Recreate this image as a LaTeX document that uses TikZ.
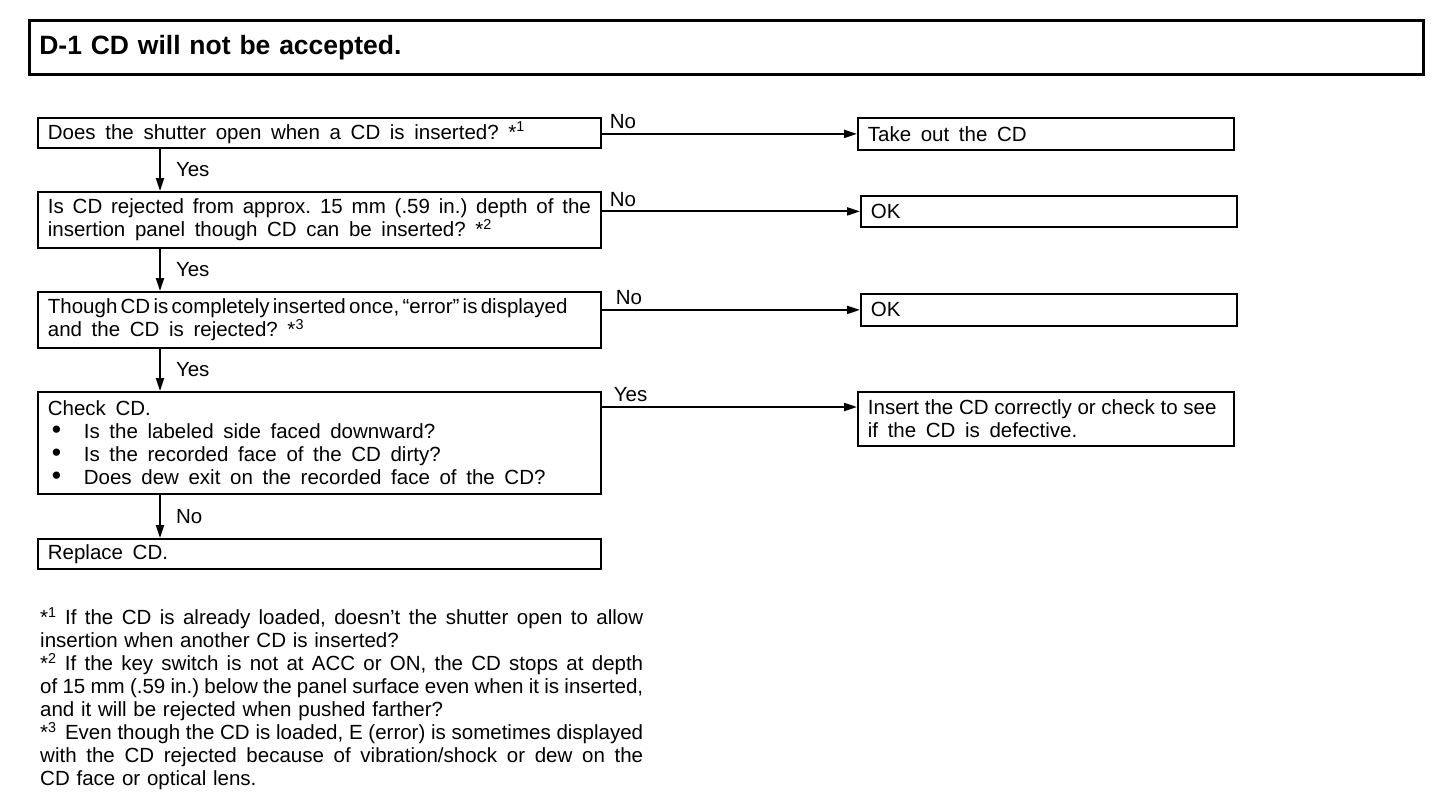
\documentclass[tikz,border=0pt]{standalone}
\usepackage{fontspec}
\setmainfont{Liberation Sans}
\usetikzlibrary{arrows.meta,positioning}
\frenchspacing
\newcommand{\bodysize}{\fontsize{20.5}{23}\selectfont}
\newcommand{\wordgap}{\spaceskip=0.47em plus 0.2em minus 0.1em\relax}
\newcommand{\notegap}{\spaceskip=0.33em plus 0.2em minus 0.1em\relax}
\newcommand{\titlesize}{\fontsize{26.5}{30}\selectfont\bfseries}
\newcommand{\tight}{\spaceskip=0.16em plus 0.3em minus 0.05em\relax}
\newcommand{\plain}{\spaceskip=0pt\relax}
\newcommand{\note}[1]{*\textsuperscript{#1}}
\newcommand{\dotitem}{\hspace*{4pt}\makebox[32pt][l]{\smash{\scalebox{1.3}{\textbullet}}}}

\begin{document}
\begin{tikzpicture}[x=1pt,y=-1pt]
\tikzset{
  panel/.style={draw=black,line width=2.6pt,anchor=north west,inner xsep=10pt,inner ysep=0pt,align=left,font=\titlesize},
  askbox/.style={draw=black,line width=1.8pt,anchor=north west,inner xsep=10pt,inner ysep=0pt,align=left,font=\bodysize,execute at begin node=\wordgap,text width=543pt,minimum width=563pt},
  endbox/.style={askbox,text width=356pt,minimum width=376pt},
  flow/.style={draw=black,line width=2pt,-{Triangle[length=13pt,width=8pt]}},
  answer/.style={font=\bodysize,inner sep=1pt}
}
\useasboundingbox (0,0) rectangle (1456,806);
\node[panel,minimum width=1394pt,minimum height=54pt,text width=1374pt] (n_title) at (28,19) {D-1 CD will not be accepted.};
% questions, left column
\node[askbox,minimum height=30pt] (n_q1) at (37,117) {Does the shutter open when a CD is inserted? \note{1}};
\node[askbox,minimum height=56pt] (n_q2) at (37,191) {Is CD rejected from approx. 15 mm (.59 in.) depth of the\\insertion panel though CD can be inserted? \note{2}};
\node[askbox,minimum height=56pt] (n_q3) at (37,291) {{\tight Though CD is completely inserted once, ``error'' is displayed}\\and the CD is rejected? \note{3}};
\node[askbox,minimum height=102pt] (n_q4) at (37,391) {Check CD.\\\dotitem Is the labeled side faced downward?\\\dotitem Is the recorded face of the CD dirty?\\\dotitem Does dew exit on the recorded face of the CD?};
\node[askbox,minimum height=30pt] (n_q5) at (37,538) {Replace CD.};
% results, right column
\node[endbox,minimum height=32pt] (n_r1) at (857,117) {Take out the CD};
\node[endbox,minimum height=31pt] (n_r2) at (860,195) {OK};
\node[endbox,minimum height=32pt] (n_r3) at (860,293) {OK};
\node[endbox,minimum height=54pt] (n_r4) at (857,391) {{\plain Insert the CD correctly or check to see}\\if the CD is defective.};
\draw[flow] ([xshift=123pt]n_q1.south west) -- ([xshift=123pt]n_q2.north west) node[answer,midway,right=14pt] {Yes};
\draw[flow] ([xshift=123pt]n_q2.south west) -- ([xshift=123pt]n_q3.north west) node[answer,midway,right=14pt] {Yes};
\draw[flow] ([xshift=123pt]n_q3.south west) -- ([xshift=123pt]n_q4.north west) node[answer,midway,right=14pt] {Yes};
\draw[flow] ([xshift=123pt]n_q4.south west) -- ([xshift=123pt]n_q5.north west) node[answer,midway,right=14pt] {No};
\draw[flow] (n_q1.east |- n_r1.west) -- (n_r1.west) node[answer,pos=0,anchor=south west,xshift=6pt,yshift=3pt] {No};
\draw[flow] (n_q2.east |- n_r2.west) -- (n_r2.west) node[answer,pos=0,anchor=south west,xshift=6pt,yshift=3pt] {No};
\draw[flow] (n_q3.east |- n_r3.west) -- (n_r3.west) node[answer,pos=0,anchor=south west,xshift=12pt,yshift=3pt] {No};
\draw[flow] ([yshift=-16pt]n_q4.north east) -- ([yshift=-16pt]n_r4.north west) node[answer,pos=0,anchor=south west,xshift=10pt,yshift=3pt] {Yes};
% footnotes
\node[inner sep=0pt,anchor=north west] (n_notes) at (40,607) {\parbox{603pt}{\bodysize\notegap\setlength{\parindent}{0pt}%
\note{1} If the CD is already loaded, doesn't the shutter open to allow\linebreak insertion when another CD is inserted?\par
\note{2} If the key switch is not at ACC or ON, the CD stops at depth\linebreak {\tight of 15 mm (.59 in.) below the panel surface even when it is inserted,}\linebreak and it will be rejected when pushed farther?\par
\note{3} {\tight Even though the CD is loaded, E (error) is sometimes displayed}\linebreak with the CD rejected because of vibration/shock or dew on the\linebreak CD face or optical lens.}};
\end{tikzpicture}
\end{document}
